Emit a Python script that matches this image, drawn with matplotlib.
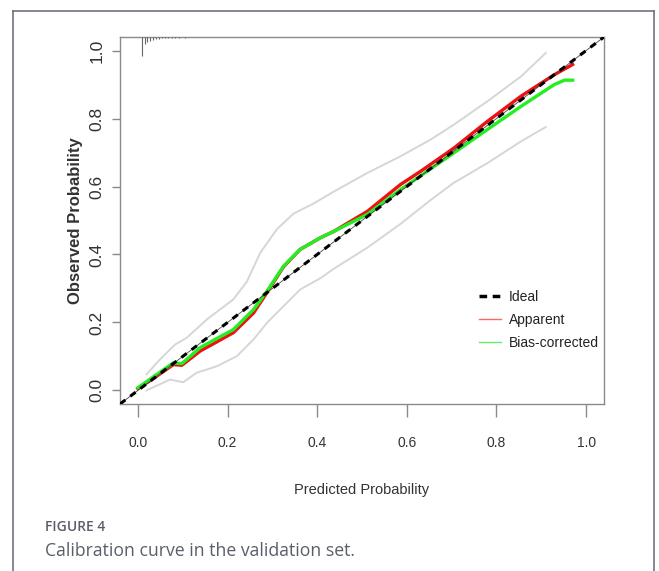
import matplotlib
matplotlib.use("Agg")
import matplotlib.pyplot as plt
from matplotlib.lines import Line2D
import numpy as np

# ---- data ----
app_x = [0.0, 0.04, 0.079, 0.098, 0.139, 0.175, 0.213, 0.258, 0.288, 0.325, 0.362, 0.407, 0.437,
         0.512, 0.586, 0.631, 0.705, 0.78, 0.855, 0.929, 0.97]
app_y = [0.005, 0.04, 0.076, 0.074, 0.116, 0.142, 0.17, 0.228, 0.288, 0.364, 0.415, 0.449, 0.468,
         0.527, 0.606, 0.645, 0.713, 0.792, 0.866, 0.929, 0.959]

bc_x = [0.0, 0.04, 0.079, 0.098, 0.139, 0.175, 0.213, 0.258, 0.288, 0.325, 0.362, 0.407, 0.437,
        0.512, 0.586, 0.631, 0.705, 0.78, 0.855, 0.929, 0.952, 0.97]
bc_y = [0.008, 0.045, 0.081, 0.079, 0.126, 0.152, 0.179, 0.238, 0.292, 0.366, 0.415, 0.449, 0.468,
        0.518, 0.591, 0.632, 0.699, 0.768, 0.836, 0.9, 0.913, 0.913]

upper_x = [0.019, 0.049, 0.083, 0.109, 0.154, 0.213, 0.243, 0.273, 0.31, 0.347, 0.392, 0.437,
           0.512, 0.586, 0.653, 0.705, 0.78, 0.855, 0.91]
upper_y = [0.047, 0.091, 0.135, 0.155, 0.209, 0.268, 0.32, 0.405, 0.474, 0.52, 0.55, 0.585,
           0.64, 0.689, 0.738, 0.782, 0.851, 0.924, 0.993]

lower_x = [0.019, 0.072, 0.101, 0.131, 0.176, 0.221, 0.258, 0.288, 0.325, 0.362, 0.407, 0.437,
           0.512, 0.586, 0.653, 0.705, 0.78, 0.855, 0.91]
lower_y = [0.0, 0.032, 0.024, 0.052, 0.071, 0.101, 0.15, 0.199, 0.248, 0.297, 0.33, 0.358,
           0.42, 0.49, 0.56, 0.611, 0.669, 0.733, 0.775]

rug_x = [0.008, 0.016, 0.021, 0.027, 0.033, 0.040, 0.046, 0.053, 0.060, 0.068, 0.075,
         0.083, 0.092, 0.105]
rug_h = [1.0, 0.35, 0.25, 0.2, 0.15, 0.12, 0.1, 0.08, 0.07, 0.06, 0.05, 0.04, 0.04, 0.03]

ticks = [0.0, 0.2, 0.4, 0.6, 0.8, 1.0]
tick_labels = ["0.0", "0.2", "0.4", "0.6", "0.8", "1.0"]
legend_labels = ["Ideal", "Apparent", "Bias-corrected"]

# ---- figure ----
W, H = 659, 571
fig = plt.figure(figsize=(W / 100, H / 100), dpi=100)

narrow = ["Liberation Sans Narrow", "Liberation Sans", "DejaVu Sans"]
arial = ["Liberation Sans", "DejaVu Sans"]
caption_font = ["Open Sans", "DejaVu Sans"]

# outer border (open at bottom)
bc = "#6f7280"
for xs, ys in [([13 / W, 13 / W], [0, 1 - 11 / H]),
               ([13 / W, 654 / W], [1 - 11 / H, 1 - 11 / H]),
               ([654 / W, 654 / W], [1 - 11 / H, 0])]:
    fig.add_artist(Line2D(xs, ys, color=bc, lw=1.2, transform=fig.transFigure))

ax = fig.add_axes([120 / W, 1 - 404 / H, (604 - 120) / W, (404 - 37) / H])
ax.set_xlim(-0.04, 1.04)
ax.set_ylim(-0.04, 1.04)

frame_c = "#8a8a8a"
for s in ax.spines.values():
    s.set_color(frame_c)
    s.set_linewidth(1.0)

# confidence bands
ax.plot(upper_x, upper_y, color="#d6d6d6", lw=1.4, zorder=1)
ax.plot(lower_x, lower_y, color="#d6d6d6", lw=1.4, zorder=1)

# ideal
ax.plot([-0.04, 1.04], [-0.04, 1.04], color="#444444", lw=0.6, zorder=3)
ax.plot([-0.04, 1.04], [-0.04, 1.04], color="black", lw=2.2,
        linestyle=(0, (2.2, 2.0)), zorder=4)

# curves
ax.plot(app_x, app_y, color="#ee1111", lw=2.4, zorder=2, solid_joinstyle="round")
ax.plot(bc_x, bc_y, color="#22ee22", lw=2.4, zorder=2.5, solid_joinstyle="round")

# rug at top
rh = np.array(rug_h) * 0.055
ax.vlines(rug_x, 1.04 - rh, 1.04, color="#666666", lw=0.8, zorder=5)

# axes
ax.set_xticks(ticks)
ax.set_xticklabels(tick_labels, fontfamily=narrow, fontsize=10, color="#333333")
ax.set_yticks(ticks)
ax.set_yticklabels(tick_labels, fontfamily=arial, fontsize=12.5, color="#333333",
                   rotation=90, va="center")
ax.tick_params(axis="x", length=9, width=1.0, color=frame_c, pad=14)
ax.tick_params(axis="y", length=6, width=1.0, color=frame_c, pad=5)

ax.set_xlabel("Predicted Probability", fontfamily=narrow, fontsize=10.5, color="#333333",
              labelpad=24)
ax.set_ylabel("Observed Probability", fontfamily=arial, fontsize=12, color="#333333",
              fontweight="bold", labelpad=5)

# legend
handles = [Line2D([0], [0], color="black", lw=2.5, linestyle=(0, (2.2, 1.6))),
           Line2D([0], [0], color="#ff6666", lw=1.0),
           Line2D([0], [0], color="#66ee66", lw=1.0)]
ax.legend(handles, legend_labels, loc="upper left", bbox_to_anchor=(0.715, 0.345),
          frameon=False, prop={"family": narrow, "size": 10},
          handlelength=1.6, handletextpad=0.6, labelspacing=0.65,
          labelcolor="#222222")

# caption
fig.text(45 / W, 1 - 527 / H, "FIGURE 4", fontfamily=caption_font, fontsize=10,
         fontweight="semibold", color="#5a5e6a", va="center", ha="left")
fig.text(45 / W, 1 - 551 / H, "Calibration curve in the validation set.",
         fontfamily=caption_font, fontsize=12.7, color="#5a5e6a", va="center", ha="left")

fig.savefig("out.png", dpi=100)
